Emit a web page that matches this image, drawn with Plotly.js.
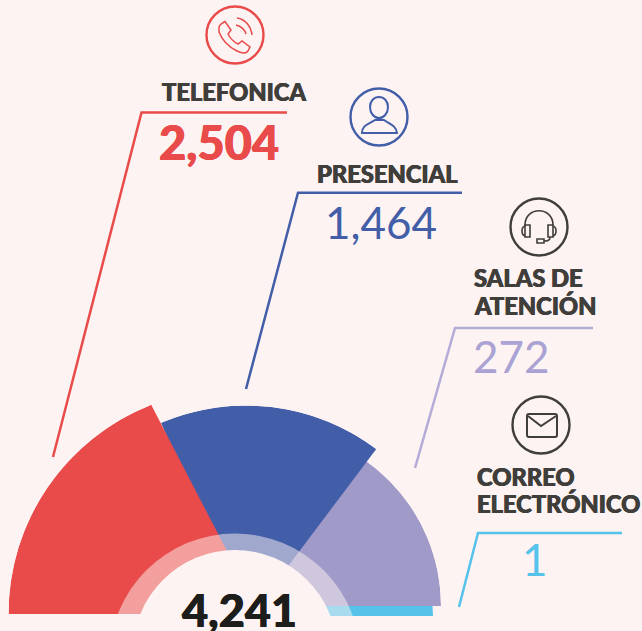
<!DOCTYPE html>
<html>
<head>
<meta charset="utf-8">
<script src="https://cdn.plot.ly/plotly-3.0.1.min.js"></script>
<style>html,body{margin:0;padding:0;background:#FDF3F2;overflow:hidden}</style>
</head>
<body>
<div id="chart" style="width:642px;height:631px"></div>
<script>
var W = 642, H = 631;
var categories = ["TELEFONICA", "PRESENCIAL", "SALAS DE<br>ATENCIÓN", "CORREO<br>ELECTRÓNICO"];
var values = [2504, 1464, 272, 1];
var total = 4241;

var BG = "#FDF3F2", RED = "#E94A4A", BLUE = "#425EA8", PURPLE = "#A09AC9", LILAC = "#B3ABD8", CYAN = "#55C2EA", DARK = "#3F3E3B";

// wedge geometry: [value index, colour, centre x, centre y, pixel radius, theta start, theta end]
var wedges = [
  [3, CYAN, 243, 616, 190, 0, 8],
  [2, PURPLE, 263.4, 606, 177.6, 0, 62],
  [0, RED, 233, 614, 224.5, 111.4, 180],
  [1, BLUE, 246, 622, 216.5, 53, 113.1],
  [0, RED, 257, 609, 230, 117.4, 134]
];

var traces = [], layout = {
  width: W, height: H, autosize: false,
  margin: {l: 0, r: 0, t: 0, b: 0, pad: 0},
  paper_bgcolor: BG, plot_bgcolor: BG, showlegend: false
};
wedges.forEach(function (w, i) {
  var id = i === 0 ? "polar" : "polar" + (i + 1);
  traces.push({
    type: "barpolar", subplot: id, hoverinfo: "skip",
    r: [values[w[0]]], theta: [(w[5] + w[6]) / 2], width: [w[6] - w[5]],
    marker: {color: w[1], line: {width: 0}}
  });
  layout[id] = {
    sector: [0, 180], bgcolor: "rgba(0,0,0,0)",
    domain: {x: [(w[2] - w[4]) / W, (w[2] + w[4]) / W], y: [(H - w[3]) / H, (H - w[3] + w[4]) / H]},
    radialaxis: {visible: false, range: [0, values[w[0]]]},
    angularaxis: {visible: false}
  };
});

function X(x) { return x / W; }
function Y(y) { return 1 - y / H; }
function pth(d) { // pixel path -> paper path
  var isX = true;
  return d.replace(/-?\d+(\.\d+)?/g, function (m) {
    var v = parseFloat(m), o = isX ? X(v) : Y(v);
    isX = !isX;
    return o.toFixed(5);
  });
}
function circle(cx, cy, r, fill, line, lw) {
  return {type: "circle", xref: "paper", yref: "paper", layer: "above",
    x0: X(cx - r), x1: X(cx + r), y0: Y(cy + r), y1: Y(cy - r),
    fillcolor: fill, line: {color: line || "rgba(0,0,0,0)", width: lw || 0}};
}
function path(d, color, lw, fill) {
  return {type: "path", xref: "paper", yref: "paper", layer: "above", path: pth(d),
    fillcolor: fill || "rgba(0,0,0,0)", line: {color: color, width: lw}};
}
var NONE = "rgba(0,0,0,0)";
layout.shapes = [
  circle(235, 659, 125.5, "rgba(253,243,242,0.5)"),
  circle(235, 652, 102, BG),
  path("M 53 457 L 141.5 112.5 L 287 112.5", RED, 2.5),
  path("M 246 389 L 298 192.7 L 462 192.7", BLUE, 2.5),
  path("M 415 468 L 455 328 L 593 328", LILAC, 2.5),
  path("M 459 607 L 478 533 L 622 533", CYAN, 2.5),
  // phone
  circle(235, 35, 28.5, NONE, RED, 2.4),
  path("M 219 28 C 219 26 222 23 225 21.5 L 231 30 L 228 34 C 230 38 234 42 238 44 L 242 41 L 250 47 L 248 51 C 246 54 241 53 237 51 C 229 47 222 40 219 32 Z", RED, 1.5),
  path("M 236 25 C 241 26 245 30 246 34", RED, 1.5),
  path("M 237 18 C 245 19 251 26 252 35", RED, 1.5),
  // person
  circle(379, 117, 28.5, NONE, BLUE, 2.4),
  path("M 379 97 C 384 97 388 101 388 107 C 388 113 384 118 379 118 C 374 118 370 113 370 107 C 370 101 374 97 379 97 Z", BLUE, 2),
  path("M 362 133 C 362 125 369 124 375 120 L 384 120 C 389 124 396 125 397 133 Z", BLUE, 2),
  // headset
  circle(539, 227, 28.5, NONE, DARK, 2.4),
  path("M 525 225 C 525 206 553 206 553 225", DARK, 1.6),
  path("M 525 225 L 530 225 L 530 237 L 525 237 Z", DARK, 1.6),
  path("M 548 225 L 553 225 L 553 237 L 548 237 Z", DARK, 1.6),
  path("M 525 226 C 521 227 521 235 525 236", DARK, 1.6),
  path("M 553 226 C 557 227 557 235 553 236", DARK, 1.6),
  path("M 550 237 C 550 241 547 241 544 241", DARK, 1.6),
  path("M 537 239 L 544 239 L 544 243 L 537 243 Z", DARK, 1.6),
  // mail
  circle(541, 425, 28.5, NONE, DARK, 2.4),
  path("M 529 414 L 555 414 C 556 414 557 415 557 416 L 557 435 C 557 436 556 437 555 437 L 529 437 C 528 437 527 436 527 435 L 527 416 C 527 415 528 414 529 414 Z", DARK, 2),
  path("M 528 416 L 541 426 L 556 416", DARK, 2)
];

function fmt(v) { return v.toLocaleString("en-US"); }
function note(text, x, y, size, color, weight, align, heavy) {
  var f = {family: "Lato, 'Open Sans', sans-serif", size: size, color: color, weight: weight};
  if (heavy) f.shadow = "0.4px 0 0 " + color + ", -0.4px 0 0 " + color;
  return {xref: "paper", yref: "paper", x: X(x), y: Y(y), showarrow: false, text: text,
    xanchor: align || "left", yanchor: "middle", align: "left", font: f};
}
var salas = categories[2].split("<br>"), correo = categories[3].split("<br>");
layout.annotations = [
  note(categories[0], 159.5, 92, 23.7, DARK, 900, "left", true),
  note(categories[1], 314.5, 174, 23.7, DARK, 900, "left", true),
  note(salas[0], 471.5, 278, 23.7, DARK, 900, "left", true),
  note(salas[1], 471.5, 305, 23.7, DARK, 900, "left", true),
  note(correo[0], 474.5, 477, 23.7, DARK, 900, "left", true),
  note(correo[1], 474.5, 504, 23.7, DARK, 900, "left", true),
  note(fmt(values[0]), 219, 142, 47, RED, 900, "center", true),
  note(fmt(values[1]), 381, 222, 44, BLUE, 400, "center"),
  note(fmt(values[2]), 511.5, 356, 44, "#A9A2D3", 400, "center"),
  note(fmt(values[3]), 535, 559, 44, CYAN, 400, "center"),
  note(fmt(total), 239, 610, 45, "#1D1D1B", 900, "center", true)
];

Plotly.newPlot("chart", traces, layout, {displayModeBar: false, staticPlot: true});
</script>
</body>
</html>
